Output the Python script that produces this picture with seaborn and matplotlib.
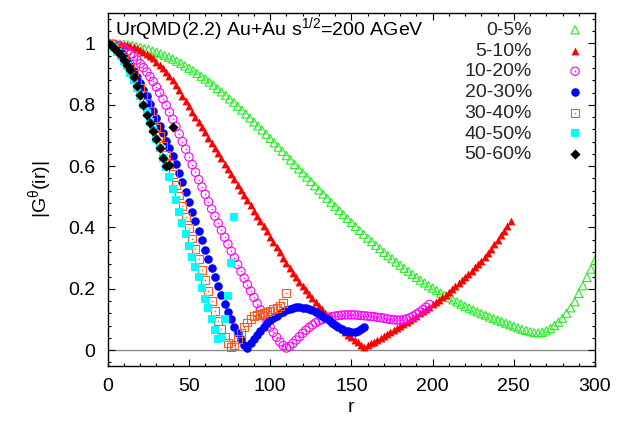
import numpy as np
import pandas as pd
import seaborn as sns
import matplotlib.pyplot as plt
from matplotlib.ticker import MultipleLocator, FuncFormatter
from matplotlib.legend_handler import HandlerTuple

# Data: |G(ir)| vs r for each centrality class
centralities = ["0-5%", "5-10%", "10-20%", "20-30%", "30-40%", "40-50%", "50-60%"]
r_steps = [2.5, 2, 2, 2, 2, 2, 2]

g_0_5 = [1.000, 1.000, 0.999, 0.998, 0.997, 0.995, 0.993, 0.990, 0.987, 0.983,
         0.980, 0.975, 0.971, 0.966, 0.960, 0.955, 0.949, 0.942, 0.935, 0.927,
         0.919, 0.911, 0.902, 0.893, 0.884, 0.874, 0.864, 0.853, 0.842, 0.831,
         0.819, 0.808, 0.795, 0.783, 0.770, 0.757, 0.744, 0.731, 0.718, 0.704,
         0.690, 0.676, 0.662, 0.648, 0.634, 0.620, 0.605, 0.591, 0.578, 0.564,
         0.550, 0.536, 0.522, 0.509, 0.495, 0.482, 0.468, 0.455, 0.442, 0.429,
         0.416, 0.403, 0.390, 0.378, 0.365, 0.354, 0.342, 0.331, 0.319, 0.308,
         0.298, 0.287, 0.277, 0.267, 0.257, 0.247, 0.237, 0.228, 0.219, 0.210,
         0.202, 0.194, 0.186, 0.178, 0.171, 0.164, 0.157, 0.150, 0.143, 0.137,
         0.131, 0.125, 0.119, 0.114, 0.108, 0.103, 0.098, 0.093, 0.088, 0.083,
         0.078, 0.073, 0.068, 0.064, 0.060, 0.057, 0.056, 0.058, 0.063, 0.070,
         0.080, 0.091, 0.104, 0.120, 0.138, 0.158, 0.185, 0.210, 0.237, 0.264,
         0.292]
g_5_10 = [1.000, 1.000, 1.000, 0.999, 0.998, 0.996, 0.994, 0.991, 0.988, 0.984,
          0.979, 0.973, 0.966, 0.959, 0.951, 0.941, 0.931, 0.920, 0.907, 0.894,
          0.880, 0.864, 0.847, 0.829, 0.812, 0.795, 0.778, 0.761, 0.744, 0.727,
          0.710, 0.693, 0.676, 0.659, 0.642, 0.625, 0.608, 0.591, 0.574, 0.557,
          0.540, 0.523, 0.506, 0.489, 0.472, 0.455, 0.438, 0.421, 0.404, 0.387,
          0.370, 0.353, 0.336, 0.319, 0.302, 0.285, 0.269, 0.253, 0.238, 0.223,
          0.209, 0.195, 0.182, 0.169, 0.157, 0.145, 0.133, 0.121, 0.110, 0.099,
          0.089, 0.079, 0.069, 0.060, 0.051, 0.042, 0.034, 0.026, 0.018, 0.010,
          0.016, 0.022, 0.028, 0.034, 0.040, 0.046, 0.052, 0.058, 0.065, 0.071,
          0.078, 0.085, 0.092, 0.099, 0.106, 0.113, 0.120, 0.127, 0.134, 0.141,
          0.149, 0.157, 0.165, 0.173, 0.181, 0.190, 0.199, 0.208, 0.218, 0.228,
          0.238, 0.248, 0.259, 0.270, 0.281, 0.292, 0.304, 0.317, 0.331, 0.345,
          0.360, 0.375, 0.390, 0.405, 0.420]
g_10_20 = [1.000, 0.999, 0.997, 0.993, 0.988, 0.982, 0.975, 0.966, 0.957, 0.946,
           0.934, 0.921, 0.907, 0.892, 0.876, 0.858, 0.839, 0.819, 0.798, 0.776,
           0.753, 0.729, 0.705, 0.680, 0.655, 0.630, 0.605, 0.580, 0.556, 0.532,
           0.508, 0.484, 0.460, 0.437, 0.414, 0.391, 0.368, 0.346, 0.323, 0.301,
           0.279, 0.257, 0.235, 0.214, 0.193, 0.172, 0.152, 0.132, 0.112, 0.093,
           0.075, 0.058, 0.042, 0.027, 0.015, 0.007, 0.012, 0.022, 0.033, 0.044,
           0.055, 0.065, 0.074, 0.082, 0.089, 0.095, 0.100, 0.104, 0.107, 0.109,
           0.111, 0.113, 0.114, 0.115, 0.115, 0.115, 0.115, 0.114, 0.113, 0.112,
           0.111, 0.110, 0.109, 0.107, 0.106, 0.104, 0.102, 0.100, 0.099, 0.098,
           0.098, 0.099, 0.102, 0.106, 0.111, 0.117, 0.124, 0.132, 0.140, 0.149]
g_20_30 = [1.000, 0.997, 0.991, 0.982, 0.971, 0.958, 0.943, 0.927, 0.909, 0.890,
           0.870, 0.849, 0.827, 0.804, 0.781, 0.757, 0.732, 0.707, 0.682, 0.658,
           0.633, 0.608, 0.578, 0.547, 0.515, 0.484, 0.452, 0.420, 0.390, 0.358,
           0.327, 0.297, 0.267, 0.238, 0.210, 0.180, 0.151, 0.125, 0.100, 0.077,
           0.055, 0.035, 0.018, 0.008, 0.022, 0.037, 0.051, 0.064, 0.076, 0.087,
           0.097, 0.105, 0.113, 0.120, 0.126, 0.131, 0.135, 0.138, 0.140, 0.140,
           0.139, 0.137, 0.134, 0.130, 0.125, 0.119, 0.112, 0.105, 0.097, 0.089,
           0.082, 0.075, 0.069, 0.064, 0.061, 0.060, 0.060, 0.063, 0.069, 0.077]
g_30_40 = [1.000, 0.997, 0.990, 0.980, 0.968, 0.954, 0.938, 0.920, 0.900, 0.879,
           0.856, 0.832, 0.807, 0.781, 0.754, 0.726, 0.697, 0.667, 0.637, 0.606,
           0.573, 0.539, 0.504, 0.469, 0.434, 0.399, 0.364, 0.330, 0.296, 0.262,
           0.228, 0.194, 0.160, 0.127, 0.096, 0.068, 0.043, 0.022, 0.010, 0.018,
           0.035, 0.055, 0.075, 0.090, 0.102, 0.110, 0.115, 0.119, 0.122, 0.125,
           0.129, 0.133, 0.138, 0.145, 0.155, 0.185]
g_40_50 = [1.000, 0.995, 0.985, 0.973, 0.960, 0.943, 0.925, 0.905, 0.882, 0.855,
           0.828, 0.800, 0.772, 0.745, 0.718, 0.690, 0.660, 0.628, 0.597, 0.565,
           0.527, 0.489, 0.451, 0.415, 0.378, 0.340, 0.304, 0.270, 0.237, 0.203,
           0.168, 0.136, 0.100, 0.065, 0.037, 0.040, 0.100, 0.176, 0.283, 0.435]
g_50_60 = [1.000, 0.995, 0.985, 0.974, 0.962, 0.946, 0.930, 0.912, 0.890, 0.862,
           0.832, 0.800, 0.768, 0.741, 0.715, 0.689, 0.658, 0.628, 0.600, 0.603,
           0.728]
g_series = [g_0_5, g_5_10, g_10_20, g_20_30, g_30_40, g_40_50, g_50_60]

title_text = "UrQMD(2.2) Au+Au s$^{1/2}$=200 AGeV"
y_ticks = [0, 0.2, 0.4, 0.6, 0.8, 1]
x_ticks = [0, 50, 100, 150, 200, 250, 300]

frames = []
for lab, step, g in zip(centralities, r_steps, g_series):
    frames.append(pd.DataFrame({"r": np.arange(len(g)) * step, "G": g, "cent": lab}))
df = pd.concat(frames, ignore_index=True)

# Style per series: (marker, size, color, open?)
styles = {
    "0-5%":   ("^", 34, "#22ee22", True),
    "5-10%":  ("^", 32, "#ff0000", False),
    "10-20%": ("o", 36, "#ff00ff", True),
    "20-30%": ("o", 38, "#0000ff", False),
    "30-40%": ("s", 32, "#ff5a1e", True),
    "40-50%": ("s", 40, "#00ffff", False),
    "50-60%": ("D", 27, "#000000", False),
}
FS = 14

sns.set_theme(style="ticks")
plt.rcParams["font.family"] = ["Liberation Sans", "DejaVu Sans"]
plt.rcParams["mathtext.fontset"] = "custom"
plt.rcParams["mathtext.rm"] = "Liberation Sans"
plt.rcParams["mathtext.it"] = "Liberation Sans:italic"

fig, ax = plt.subplots(figsize=(6.18, 4.25), dpi=100)
fig.subplots_adjust(left=0.1743, right=0.9628, bottom=0.140, top=0.970)

ax.axhline(0, color="#8c8c8c", lw=1.0, zorder=0.5)

handles = []
for lab in centralities:
    marker, size, col, is_open = styles[lab]
    sub = df[df["cent"] == lab]
    if is_open:
        sns.scatterplot(data=sub, x="r", y="G", ax=ax, marker=marker, s=size,
                        color=col, facecolor="none", edgecolor=col, linewidth=0.8,
                        label=lab, legend=False)
        h = ax.collections[-1]
        if marker != "^":
            # gnuplot-style centre dot
            sns.scatterplot(data=sub, x="r", y="G", ax=ax, marker="o", s=1.2,
                            color=col, edgecolor=col, linewidth=0, legend=False)
            h = (h, ax.collections[-1])
    else:
        sns.scatterplot(data=sub, x="r", y="G", ax=ax, marker=marker, s=size,
                        color=col, edgecolor=col, linewidth=0, label=lab, legend=False)
        h = ax.collections[-1]
    handles.append(h)

ax.set_xlim(0, 300)
ax.set_ylim(-0.05, 1.1)
ax.set_xticks(x_ticks)
ax.set_yticks(y_ticks)
ax.xaxis.set_minor_locator(MultipleLocator(10))
ax.yaxis.set_minor_locator(MultipleLocator(0.04))
ax.yaxis.set_major_formatter(FuncFormatter(lambda v, p: "%g" % v))
ax.xaxis.set_major_formatter(FuncFormatter(lambda v, p: "%g" % v))
ax.tick_params(which="both", direction="in", top=True, right=True, color="black", width=0.8)
ax.tick_params(which="major", length=5, labelsize=FS, pad=9, labelcolor="black")
ax.tick_params(which="minor", length=2.5)
for sp in ax.spines.values():
    sp.set_color("black")
    sp.set_linewidth(1.0)

ax.set_xlabel("r", fontsize=FS, color="black")
ax.set_ylabel(r"|G$^{\mathrm{\theta}}$(ir)|", fontsize=FS, color="black")
ax.xaxis.set_label_coords(0.5, -0.095)
ax.yaxis.set_label_coords(-0.110, 0.5)

ax.text(0.015, 0.937, title_text, transform=ax.transAxes, ha="left",
        va="baseline", fontsize=FS, color="black")

leg = ax.legend(handles, centralities, loc="upper right", frameon=False,
                fontsize=FS, markerfirst=False, handlelength=1.17,
                handletextpad=1.63, labelspacing=0.16, borderpad=0.22,
                borderaxespad=0.22, scatterpoints=1,
                handler_map={tuple: HandlerTuple(ndivide=1, pad=0)})
for col_box in leg._legend_handle_box.get_children():
    col_box.align = "right"

fig.savefig("out.png", dpi=100)
